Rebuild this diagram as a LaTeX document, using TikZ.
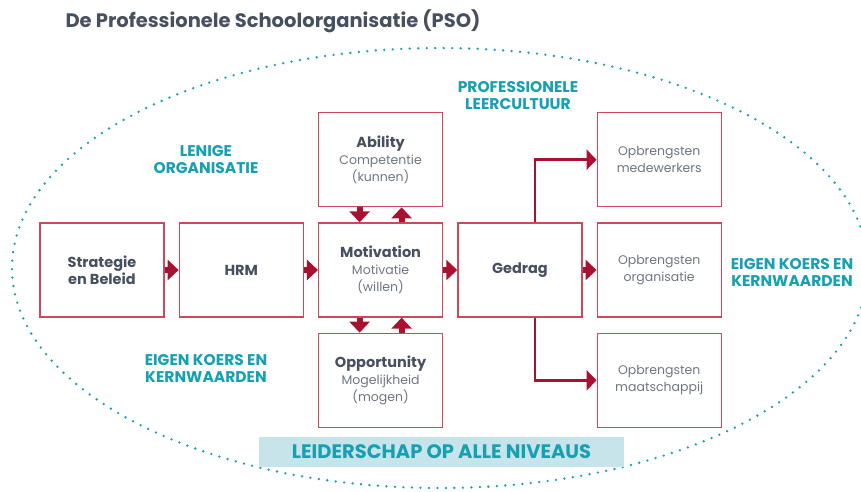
\documentclass[tikz,border=0pt]{standalone}
\usepackage{fontspec}
\setmainfont{Poppins}
\usetikzlibrary{positioning,arrows.meta}
\definecolor{psorood}{RGB}{166,18,48}
\definecolor{randrood}{RGB}{204,72,92}
\definecolor{leisteen}{RGB}{70,80,94}
\definecolor{grijs}{RGB}{110,117,128}
\definecolor{petrol}{RGB}{22,160,178}
\definecolor{lichtblauw}{RGB}{198,228,233}
\newcommand{\kop}[1]{{\fontsize{14.5}{17}\selectfont\textbf{#1}}}
\newcommand{\bloktekst}[3]{\kop{#1}\\{\color{grijs}#2}\\{\color{grijs}#3}}
\tikzstyle{blok} = [draw=randrood, line width=1.3pt, rectangle, minimum width=124pt, minimum height=94pt, align=center, text=leisteen, font=\fontsize{12.5}{17}\selectfont]
\tikzstyle{petroltitel} = [text=petrol, font=\bfseries\fontsize{15.5}{17}\selectfont, align=center]
\tikzstyle{dikpijl} = [psorood, line width=6pt, -{Triangle[length=11pt,width=20pt]}]
\tikzstyle{dunpijl} = [psorood, line width=2.5pt, -{Triangle[length=10pt,width=20pt]}]
\tikzstyle{stip} = [petrol, line width=2.6pt, line cap=round, dash pattern=on 0pt off 8.5pt]

\begin{document}
\begin{tikzpicture}[x=1pt,y=-1pt]
	\useasboundingbox (0,0) rectangle (861,491);
	% stippellijn rond de organisatie
	\begin{scope}
		\clip (0,0) rectangle (861,491);
		\draw[stip] (440,268) ellipse [x radius=428pt, y radius=220pt];
	\end{scope}
	\node[anchor=west, text=leisteen, font=\bfseries\fontsize{19.5}{22}\selectfont] (titel) at (62,21) {De Professionele Schoolorganisatie (PSO)};

	% middenrij
	\node[blok](strategie) at (102,270) {\kop{Strategie}\\\kop{en Beleid}};
	\node[blok, right=14pt of strategie](hrm) {\kop{HRM}};
	\node[blok, right=14pt of hrm](motivation) {\bloktekst{Motivation}{Motivatie}{(willen)}};
	\node[blok, right=14pt of motivation](gedrag) {\kop{Gedrag}};
	\node[blok, right=14pt of gedrag](organisatie) {{\color{grijs}Opbrengsten}\\{\color{grijs}organisatie}};
	\node[blok, above=15pt of motivation](ability) {\bloktekst{Ability}{Competentie}{(kunnen)}};
	\node[blok, below=15pt of motivation](opportunity) {\bloktekst{Opportunity}{Mogelijkheid}{(mogen)}};
	\node[blok, above=15pt of organisatie](medewerkers) {{\color{grijs}Opbrengsten}\\{\color{grijs}medewerkers}};
	\node[blok, below=15pt of organisatie](maatschappij) {{\color{grijs}Opbrengsten}\\{\color{grijs}maatschappij}};

	% pijlen
	\draw[dikpijl] (strategie) -- (hrm);
	\draw[dikpijl] (hrm) -- (motivation);
	\draw[dikpijl] (motivation) -- (gedrag);
	\draw[dikpijl] (gedrag) -- (organisatie);
	\draw[dikpijl] ([xshift=-21pt]ability.south) -- ([xshift=-21pt]motivation.north);
	\draw[dikpijl] ([xshift=21pt]motivation.north) -- ([xshift=21pt]ability.south);
	\draw[dikpijl] ([xshift=-21pt]motivation.south) -- ([xshift=-21pt]opportunity.north);
	\draw[dikpijl] ([xshift=21pt]opportunity.north) -- ([xshift=21pt]motivation.south);
	\draw[dunpijl] ([xshift=15pt]gedrag.north) |- (medewerkers.west);
	\draw[dunpijl] ([xshift=15pt]gedrag.south) |- (maatschappij.west);

	% teksten in petrol
	\node[petroltitel] (leercultuur) at (518,96) {PROFESSIONELE\\LEERCULTUUR};
	\node[petroltitel] (lenig) at (206,160) {LENIGE\\ORGANISATIE};
	\node[petroltitel] (koerslinks) at (206,368) {EIGEN KOERS EN\\KERNWAARDEN};
	\node[petroltitel] (koersrechts) at (792,272) {EIGEN KOERS EN\\KERNWAARDEN};
	\node[fill=lichtblauw, minimum width=365pt, minimum height=30pt, text=petrol, font=\bfseries\fontsize{19.5}{22}\selectfont] (leiderschap) at (441.5,452) {LEIDERSCHAP OP ALLE NIVEAUS};
\end{tikzpicture}
\end{document}
